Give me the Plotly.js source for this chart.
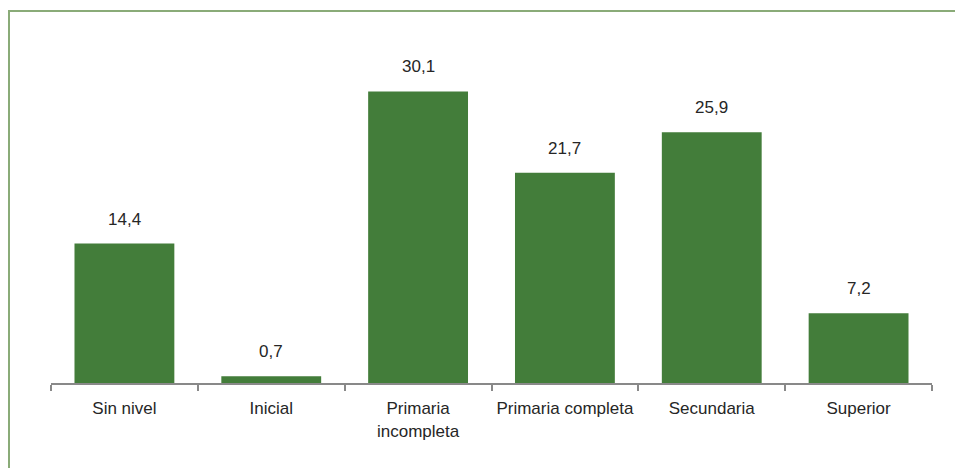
<!DOCTYPE html>
<html>
<head>
<meta charset="utf-8">
<script src="https://cdn.plot.ly/plotly-3.0.1.min.js"></script>
<style>
  html, body { margin: 0; padding: 0; background: #fff; }
  #wrap { position: relative; width: 955px; height: 468px; overflow: hidden; }
  #frame { position: absolute; left: 8px; top: 10px; width: 960px; height: 470px;
           border-top: 2px solid #8aab78; border-left: 2px solid #8aab78; box-sizing: border-box; pointer-events: none; }
  #chart { position: absolute; left: 0; top: 0; width: 955px; height: 468px; }
</style>
</head>
<body>
<div id="wrap">
  <div id="chart"></div>
  <div id="frame"></div>
</div>
<script>
const categories = ["Sin nivel", "Inicial", "Primaria<br>incompleta", "Primaria completa", "Secundaria", "Superior"];
const values = [14.4, 0.7, 30.1, 21.7, 25.9, 7.2];
const valueLabels = values.map(v => v.toFixed(1).replace(".", ","));

const barColor = "#437d3a";
const textColor = "#262626";
const fontFam = "'Liberation Sans', Arial, sans-serif";
const fontSize = 17;

const trace = {
  type: "bar",
  x: categories,
  y: values,
  marker: { color: barColor },
  hoverinfo: "none"
};

const annotations = categories.map((c, i) => ({
  x: c, y: values[i], xref: "x", yref: "y",
  text: valueLabels[i], showarrow: false,
  yanchor: "bottom", yshift: 13,
  font: { family: fontFam, size: fontSize, color: textColor }
}));

const layout = {
  width: 955, height: 468,
  margin: { l: 51, r: 23, t: 44, b: 85 },
  paper_bgcolor: "#ffffff",
  plot_bgcolor: "#ffffff",
  bargap: 0.32,
  showlegend: false,
  font: { family: fontFam, size: fontSize, color: textColor },
  xaxis: {
    type: "category",
    showline: true, linecolor: "#898989", linewidth: 2,
    ticks: "outside", tickson: "boundaries", ticklen: 6, tickcolor: "#898989", tickwidth: 2,
    tickangle: 0,
    ticklabelstandoff: 9,
    showgrid: false, zeroline: false,
    tickfont: { family: fontFam, size: fontSize, color: textColor }
  },
  yaxis: {
    range: [0, 35], visible: false, showgrid: false, zeroline: false
  },
  annotations: annotations
};

Plotly.newPlot("chart", [trace], layout, { displayModeBar: false, staticPlot: true });
</script>
</body>
</html>
